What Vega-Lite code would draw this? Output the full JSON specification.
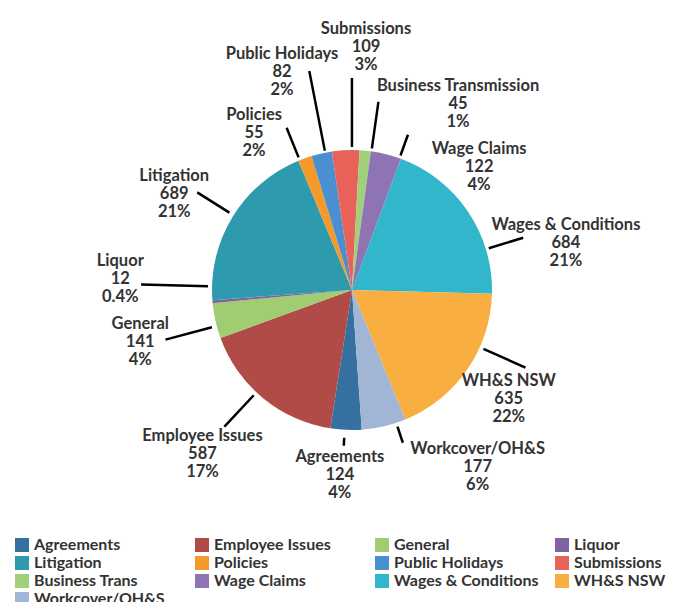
{
  "$schema": "https://vega.github.io/schema/vega-lite/v6.json",
  "width": 648,
  "height": 580,
  "padding": {"left": 28, "top": 0, "right": 0, "bottom": 22},
  "autosize": {"type": "none"},
  "background": "white",
  "config": {"view": {"stroke": null}, "font": "Lato, sans-serif"},
  "data": {
    "values": [
      {"idx": 1, "category": "Agreements", "value": 124, "label": "Agreements\n124\n4%"},
      {"idx": 2, "category": "Employee Issues", "value": 587, "label": "Employee Issues\n587\n17%"},
      {"idx": 3, "category": "General", "value": 141, "label": "General\n141\n4%"},
      {"idx": 4, "category": "Liquor", "value": 12, "label": "Liquor\n12\n0.4%"},
      {"idx": 5, "category": "Litigation", "value": 689, "label": "Litigation\n689\n21%"},
      {"idx": 6, "category": "Policies", "value": 55, "label": "Policies\n55\n2%"},
      {"idx": 7, "category": "Public Holidays", "value": 82, "label": "Public Holidays\n82\n2%"},
      {"idx": 8, "category": "Submissions", "value": 109, "label": "Submissions\n109\n3%"},
      {"idx": 9, "category": "Business Trans", "value": 45, "label": "Business Transmission\n45\n1%"},
      {"idx": 10, "category": "Wage Claims", "value": 122, "label": "Wage Claims\n122\n4%"},
      {"idx": 11, "category": "Wages & Conditions", "value": 684, "label": "Wages & Conditions\n684\n21%"},
      {"idx": 12, "category": "WH&S NSW", "value": 635, "label": "WH&S NSW\n635\n22%"},
      {"idx": 13, "category": "Workcover/OH&S", "value": 177, "label": "Workcover/OH&S\n177\n6%"}
    ]
  },
  "encoding": {
    "theta": {"field": "value", "type": "quantitative", "stack": true, "scale": {"range": [3.0718, 9.355]}},
    "order": {"field": "idx", "type": "quantitative"}
  },
  "layer": [
    {
      "mark": {"type": "arc", "radius": 140},
      "encoding": {
        "color": {
          "field": "category", "type": "nominal",
          "scale": {
            "domain": ["Agreements", "Employee Issues", "General", "Liquor", "Litigation", "Policies", "Public Holidays", "Submissions", "Business Trans", "Wage Claims", "Wages & Conditions", "WH&S NSW", "Workcover/OH&S"],
            "range": ["#3670A0", "#B04B47", "#A1CD72", "#8064A2", "#2E9AAE", "#F39A2B", "#4A90D0", "#E9625A", "#A2D07A", "#8F74B4", "#31B6CB", "#F9AE42", "#A0B6D4"]
          },
          "legend": {
            "title": null, "orient": "none", "legendX": -14, "legendY": 537,
            "direction": "horizontal", "columns": 4, "gridAlign": "all",
            "symbolType": "square", "symbolSize": 196, "symbolStrokeWidth": 0, "symbolOpacity": 1,
            "labelFontSize": 16, "labelFontWeight": "bold", "labelColor": "#333333", "labelOffset": 4,
            "columnPadding": 15, "rowPadding": 2, "padding": 0, "labelLimit": 200
          }
        }
      }
    },
    {
      "encoding": {"detail": {"field": "category", "type": "nominal"}},
      "layer": [
        {"mark": {"type": "arc", "radius": 212, "radius2": 143, "padAngle": 1, "thetaOffset": 0.045, "theta2Offset": 0.045, "filled": false, "stroke": "#000000", "strokeWidth": 2.5},
         "encoding": {"strokeOpacity": {"condition": {"test": "datum.category === 'Submissions'", "value": 1}, "value": 0}}},
        {"mark": {"type": "arc", "radius": 223, "radius2": 142, "padAngle": 1, "thetaOffset": 0.026, "theta2Offset": 0.026, "filled": false, "stroke": "#000000", "strokeWidth": 2.5},
         "encoding": {"strokeOpacity": {"condition": {"test": "datum.category === 'Public Holidays'", "value": 1}, "value": 0}}},
        {"mark": {"type": "arc", "radius": 175, "radius2": 143, "padAngle": 1, "thetaOffset": -0.04, "theta2Offset": -0.04, "filled": false, "stroke": "#000000", "strokeWidth": 2.5},
         "encoding": {"strokeOpacity": {"condition": {"test": "datum.category === 'Policies'", "value": 1}, "value": 0}}},
        {"mark": {"type": "arc", "radius": 190, "radius2": 143, "padAngle": 1, "thetaOffset": 0.045, "theta2Offset": 0.045, "filled": false, "stroke": "#000000", "strokeWidth": 2.5},
         "encoding": {"strokeOpacity": {"condition": {"test": "datum.category === 'Business Trans'", "value": 1}, "value": 0}}},
        {"mark": {"type": "arc", "radius": 165, "radius2": 143, "padAngle": 1, "thetaOffset": 0.1, "theta2Offset": 0.1, "filled": false, "stroke": "#000000", "strokeWidth": 2.5},
         "encoding": {"strokeOpacity": {"condition": {"test": "datum.category === 'Wage Claims'", "value": 1}, "value": 0}}},
        {"mark": {"type": "arc", "radius": 179, "radius2": 143, "padAngle": 1, "thetaOffset": 0.297, "theta2Offset": 0.297, "filled": false, "stroke": "#000000", "strokeWidth": 2.5},
         "encoding": {"strokeOpacity": {"condition": {"test": "datum.category === 'Wages & Conditions'", "value": 1}, "value": 0}}},
        {"mark": {"type": "arc", "radius": 190, "radius2": 144, "padAngle": 1, "thetaOffset": -0.183, "theta2Offset": -0.183, "filled": false, "stroke": "#000000", "strokeWidth": 2.5},
         "encoding": {"strokeOpacity": {"condition": {"test": "datum.category === 'WH&S NSW'", "value": 1}, "value": 0}}},
        {"mark": {"type": "arc", "radius": 161, "radius2": 144, "padAngle": 1, "thetaOffset": -0.091, "theta2Offset": -0.091, "filled": false, "stroke": "#000000", "strokeWidth": 2.5},
         "encoding": {"strokeOpacity": {"condition": {"test": "datum.category === 'Workcover/OH&S'", "value": 1}, "value": 0}}},
        {"mark": {"type": "arc", "radius": 156, "radius2": 148, "padAngle": 1, "thetaOffset": 0.01, "theta2Offset": 0.01, "filled": false, "stroke": "#000000", "strokeWidth": 2.5},
         "encoding": {"strokeOpacity": {"condition": {"test": "datum.category === 'Agreements'", "value": 1}, "value": 0}}},
        {"mark": {"type": "arc", "radius": 187, "radius2": 144, "padAngle": 1, "thetaOffset": 0.063, "theta2Offset": 0.063, "filled": false, "stroke": "#000000", "strokeWidth": 2.5},
         "encoding": {"strokeOpacity": {"condition": {"test": "datum.category === 'Employee Issues'", "value": 1}, "value": 0}}},
        {"mark": {"type": "arc", "radius": 193, "radius2": 145, "padAngle": 1, "thetaOffset": -0.038, "theta2Offset": -0.038, "filled": false, "stroke": "#000000", "strokeWidth": 2.5},
         "encoding": {"strokeOpacity": {"condition": {"test": "datum.category === 'General'", "value": 1}, "value": 0}}},
        {"mark": {"type": "arc", "radius": 211, "radius2": 144, "padAngle": 1, "thetaOffset": 0.11, "theta2Offset": 0.11, "filled": false, "stroke": "#000000", "strokeWidth": 2.5},
         "encoding": {"strokeOpacity": {"condition": {"test": "datum.category === 'Liquor'", "value": 1}, "value": 0}}},
        {"mark": {"type": "arc", "radius": 183, "radius2": 145, "padAngle": 1, "thetaOffset": 0.01, "theta2Offset": 0.01, "filled": false, "stroke": "#000000", "strokeWidth": 2.5},
         "encoding": {"strokeOpacity": {"condition": {"test": "datum.category === 'Litigation'", "value": 1}, "value": 0}}}
      ]
    },
    {
      "encoding": {"detail": {"field": "category", "type": "nominal"}},
      "layer": [
        {"mark": {"type": "text", "radius": 243, "thetaOffset": 0.103, "dy": -18, "align": "center", "baseline": "middle", "lineBreak": "\n", "lineHeight": 18, "fontSize": 16.5, "fontWeight": "bold", "color": "#333333"},
         "encoding": {"text": {"condition": {"test": "datum.category === 'Submissions'", "field": "label"}, "value": ""}}},
        {"mark": {"type": "text", "radius": 229, "thetaOffset": -0.092, "dy": -18, "align": "center", "baseline": "middle", "lineBreak": "\n", "lineHeight": 18, "fontSize": 16.5, "fontWeight": "bold", "color": "#333333"},
         "encoding": {"text": {"condition": {"test": "datum.category === 'Public Holidays'", "field": "label"}, "value": ""}}},
        {"mark": {"type": "text", "radius": 185, "thetaOffset": -0.215, "dy": -18, "align": "center", "baseline": "middle", "lineBreak": "\n", "lineHeight": 18, "fontSize": 16.5, "fontWeight": "bold", "color": "#333333"},
         "encoding": {"text": {"condition": {"test": "datum.category === 'Policies'", "field": "label"}, "value": ""}}},
        {"mark": {"type": "text", "radius": 214, "thetaOffset": 0.424, "dy": -18, "align": "center", "baseline": "middle", "lineBreak": "\n", "lineHeight": 18, "fontSize": 16.5, "fontWeight": "bold", "color": "#333333"},
         "encoding": {"text": {"condition": {"test": "datum.category === 'Business Trans'", "field": "label"}, "value": ""}}},
        {"mark": {"type": "text", "radius": 177, "thetaOffset": 0.555, "dy": -18, "align": "center", "baseline": "middle", "lineBreak": "\n", "lineHeight": 18, "fontSize": 16.5, "fontWeight": "bold", "color": "#333333"},
         "encoding": {"text": {"condition": {"test": "datum.category === 'Wage Claims'", "field": "label"}, "value": ""}}},
        {"mark": {"type": "text", "radius": 219, "thetaOffset": 0.377, "dy": -18, "align": "center", "baseline": "middle", "lineBreak": "\n", "lineHeight": 18, "fontSize": 16.5, "fontWeight": "bold", "color": "#333333"},
         "encoding": {"text": {"condition": {"test": "datum.category === 'Wages & Conditions'", "field": "label"}, "value": ""}}},
        {"mark": {"type": "text", "radius": 191, "thetaOffset": 0.005, "dy": -18, "align": "center", "baseline": "middle", "lineBreak": "\n", "lineHeight": 18, "fontSize": 16.5, "fontWeight": "bold", "color": "#333333"},
         "encoding": {"text": {"condition": {"test": "datum.category === 'WH&S NSW'", "field": "label"}, "value": ""}}},
        {"mark": {"type": "text", "radius": 217, "thetaOffset": -0.387, "dy": -18, "align": "center", "baseline": "middle", "lineBreak": "\n", "lineHeight": 18, "fontSize": 16.5, "fontWeight": "bold", "color": "#333333"},
         "encoding": {"text": {"condition": {"test": "datum.category === 'Workcover/OH&S'", "field": "label"}, "value": ""}}},
        {"mark": {"type": "text", "radius": 185, "thetaOffset": 0.023, "dy": -18, "align": "center", "baseline": "middle", "lineBreak": "\n", "lineHeight": 18, "fontSize": 16.5, "fontWeight": "bold", "color": "#333333"},
         "encoding": {"text": {"condition": {"test": "datum.category === 'Agreements'", "field": "label"}, "value": ""}}},
        {"mark": {"type": "text", "radius": 222, "thetaOffset": 0.051, "dy": -18, "align": "center", "baseline": "middle", "lineBreak": "\n", "lineHeight": 18, "fontSize": 16.5, "fontWeight": "bold", "color": "#333333"},
         "encoding": {"text": {"condition": {"test": "datum.category === 'Employee Issues'", "field": "label"}, "value": ""}}},
        {"mark": {"type": "text", "radius": 218, "thetaOffset": -0.017, "dy": -18, "align": "center", "baseline": "middle", "lineBreak": "\n", "lineHeight": 18, "fontSize": 16.5, "fontWeight": "bold", "color": "#333333"},
         "encoding": {"text": {"condition": {"test": "datum.category === 'General'", "field": "label"}, "value": ""}}},
        {"mark": {"type": "text", "radius": 232, "thetaOffset": 0.131, "dy": -18, "align": "center", "baseline": "middle", "lineBreak": "\n", "lineHeight": 18, "fontSize": 16.5, "fontWeight": "bold", "color": "#333333"},
         "encoding": {"text": {"condition": {"test": "datum.category === 'Liquor'", "field": "label"}, "value": ""}}},
        {"mark": {"type": "text", "radius": 202, "thetaOffset": -0.058, "dy": -18, "align": "center", "baseline": "middle", "lineBreak": "\n", "lineHeight": 18, "fontSize": 16.5, "fontWeight": "bold", "color": "#333333"},
         "encoding": {"text": {"condition": {"test": "datum.category === 'Litigation'", "field": "label"}, "value": ""}}}
      ]
    }
  ]
}
